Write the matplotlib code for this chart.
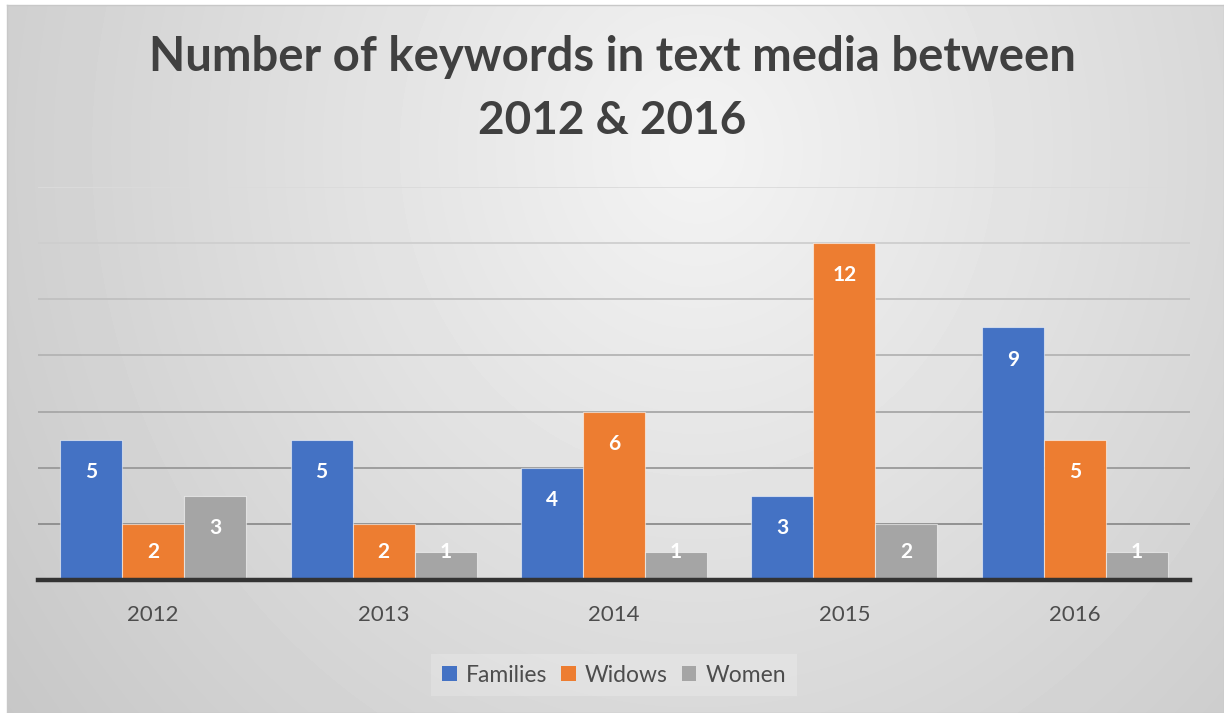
import numpy as np
import matplotlib
matplotlib.use("Agg")
import matplotlib.pyplot as plt
from matplotlib.patches import Patch

# ---------------- data ----------------
years = ["2012", "2013", "2014", "2015", "2016"]
series_names = ["Families", "Widows", "Women"]
families = [5, 5, 4, 3, 9]
widows = [2, 2, 6, 12, 5]
women = [3, 1, 1, 2, 1]
title_line1 = "Number of keywords in text media between"
title_line2 = "2012 & 2016"

colors = ["#4472C4", "#ED7D31", "#A5A5A5"]
FONT = ["Lato", "DejaVu Sans"]
plt.rcParams["font.family"] = FONT

W, H = 1224, 713
fig = plt.figure(figsize=(W / 100, H / 100), dpi=100)
fig.patch.set_facecolor("white")

# ---------------- background gradient ----------------
bg = fig.add_axes([7 / W, 0, 1 - 7 / W, (H - 5) / H], zorder=0)
yy, xx = np.mgrid[0:H - 5, 0:W - 7]
cx, cy = 690, 145
r = np.sqrt(((xx - cx) / 640.0) ** 2 + ((yy - cy) / 700.0) ** 2)
val = np.clip(0.955 - 0.13 * r, 0, 1)
bg.imshow(val, cmap="gray", vmin=0, vmax=1, aspect="auto",
          extent=[0, 1, 0, 1], origin="upper", interpolation="bilinear")
bg.set_xlim(0, 1)
bg.set_ylim(0, 1)
bg.set_xticks([])
bg.set_yticks([])
for s in bg.spines.values():
    s.set_color("#c8c8c8")
    s.set_linewidth(1.0)

# ---------------- main axes ----------------
left, right = 38 / W, 1190 / W
bottom, top = (H - 580) / H, (H - 187) / H
ax = fig.add_axes([left, bottom, right - left, top - bottom], zorder=2)
ax.patch.set_alpha(0)

x = np.arange(len(years))
bw = 0.269
data = [families, widows, women]
offsets = [-bw, 0, bw]

# gridlines, getting darker toward the bottom
levels = np.arange(2, 15, 2)
for lv in levels:
    t = (lv - 2) / 12.0
    g = 0.55 + t * (0.86 - 0.55)
    ax.axhline(lv, color=(g, g, g), linewidth=1.3, zorder=1)

for vals, off, c in zip(data, offsets, colors):
    ax.bar(x + off, vals, width=bw, color=c, edgecolor=(1, 1, 1, 0.55),
           linewidth=0.8, zorder=2)
    for xi, v in zip(x + off, vals):
        ly = max(v - 1.15, 1.0)
        ax.text(xi, ly, str(v), ha="center", va="center", color="white",
                fontsize=15, fontweight="bold", zorder=4)

ax.set_xlim(-0.5, 4.5)
ax.set_ylim(0, 14)
ax.set_yticks([])
ax.set_xticks(x)
ax.set_xticklabels(years, fontsize=16, color="#4d4d4d")
ax.tick_params(axis="x", length=0, pad=18)
for s in ["left", "right", "top"]:
    ax.spines[s].set_visible(False)
ax.spines["bottom"].set_color("#333333")
ax.spines["bottom"].set_linewidth(3.2)
ax.spines["bottom"].set_zorder(5)

# ---------------- title ----------------
fig.text(0.5, (H - 57) / H, title_line1, ha="center", va="center",
         fontsize=34, fontweight="bold", color="#404040", zorder=3)
fig.text(0.5, (H - 121) / H, title_line2, ha="center", va="center",
         fontsize=33, fontweight="bold", color="#404040", zorder=3)

# ---------------- legend ----------------
handles = [Patch(facecolor=c, edgecolor="none") for c in colors]
leg = fig.legend(handles, series_names, loc="center", bbox_to_anchor=(614 / W, (H - 675) / H),
                 ncol=3, frameon=True, fontsize=16.5, handlelength=0.65, handleheight=0.65,
                 handletextpad=0.4, columnspacing=0.6, borderpad=0.45,
                 labelcolor="#4d4d4d", framealpha=0.2, facecolor="white",
                 edgecolor="none", fancybox=False)
leg.set_zorder(3)

fig.savefig("out.png", dpi=100)
